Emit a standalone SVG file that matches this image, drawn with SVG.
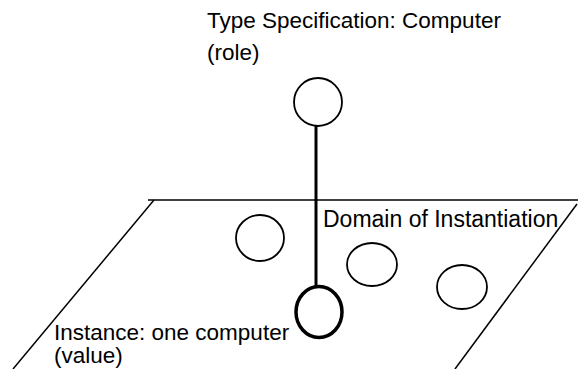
<svg xmlns="http://www.w3.org/2000/svg" width="578" height="369" viewBox="0 0 578 369">
  <style>
    .lbl { font-family: "Liberation Sans", Arial, sans-serif; font-size: 22.5px; fill: #000; }
    .edge { stroke: #000; fill: none; stroke-width: 1.5; }
    .link { stroke: #000; fill: none; stroke-width: 3; }
    .node { stroke: #000; fill: #fff; stroke-width: 1.8; }
    .thick { stroke-width: 3.5; }
  </style>
  <rect width="578" height="369" fill="#fff"/>

  <!-- plane of the domain -->
  <g id="domain">
    <line class="edge" x1="148" y1="200" x2="578" y2="200"/>
    <line class="edge" x1="154" y1="200" x2="13" y2="369"/>
    <line class="edge" x1="577" y1="204" x2="455" y2="369"/>
    <text class="lbl" x="323" y="227" style="font-size:23px">Domain of Instantiation</text>
  </g>

  <g id="connectors">
    <line class="link" x1="316" y1="125" x2="316" y2="287"/>
  </g>

  <g id="type-spec">
    <ellipse class="node" cx="318" cy="102" rx="24" ry="24"/>
    <text class="lbl" x="207" y="28">Type Specification: Computer</text>
    <text class="lbl" x="207" y="60">(role)</text>
  </g>

  <g id="other-1">
    <ellipse class="node" cx="260" cy="238" rx="24" ry="23"/>
  </g>
  <g id="other-2">
    <ellipse class="node" cx="372" cy="264.5" rx="25" ry="21.5"/>
  </g>
  <g id="other-3">
    <ellipse class="node" cx="462" cy="287" rx="25" ry="22"/>
  </g>

  <g id="instance">
    <ellipse class="node thick" cx="319" cy="312" rx="23" ry="25.5"/>
    <text class="lbl" x="54" y="340">Instance: one computer</text>
    <text class="lbl" x="54" y="363">(value)</text>
  </g>
</svg>
